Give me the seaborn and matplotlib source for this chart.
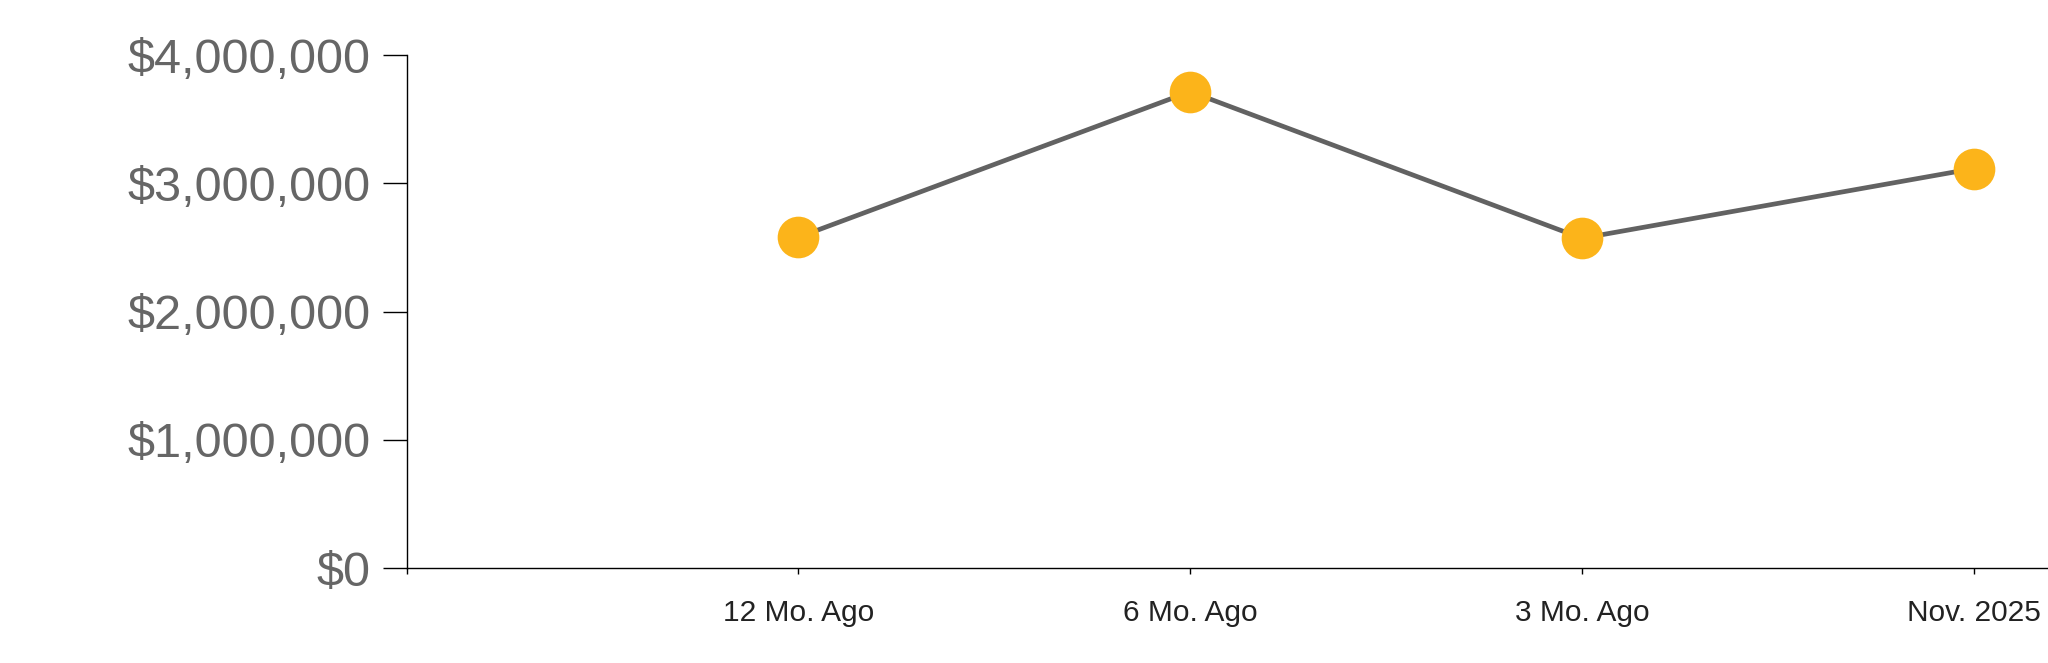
import pandas as pd
import numpy as np
import matplotlib
matplotlib.use("Agg")
import matplotlib.pyplot as plt
import seaborn as sns
from matplotlib.ticker import FuncFormatter

# values
periods = ["12 Mo. Ago", "6 Mo. Ago", "3 Mo. Ago", "Nov. 2025"]
values = [2580000, 3715000, 2572000, 3115000]
y_ticks = [0, 1000000, 2000000, 3000000, 4000000]

df = pd.DataFrame({"period": pd.Categorical(periods, categories=periods), "value": values})

sns.set_style("white")
plt.rcParams["font.family"] = ["Liberation Sans", "DejaVu Sans"]

fig = plt.figure(figsize=(20.48, 6.63), dpi=100)
ax = fig.add_axes([0.1986, 0.1428, 0.8014, 0.7742])

sns.lineplot(data=df, x="period", y="value", ax=ax, color="#626262", linewidth=3.4,
             marker="o", markersize=30, markerfacecolor="#FCB41A",
             markeredgecolor="#FCB41A", markeredgewidth=0, zorder=3)

ax.set_xlim(-1, 3.19)
ax.set_ylim(0, 4000000)

ax.set_xticks([-1, 0, 1, 2, 3])
ax.set_xticklabels([""] + periods)
ax.set_yticks(y_ticks)
ax.yaxis.set_major_formatter(FuncFormatter(lambda v, _: f"${v:,.0f}"))

ax.set_xlabel("")
ax.set_ylabel("")

for s in ["top", "right"]:
    ax.spines[s].set_visible(False)
for s in ["left", "bottom"]:
    ax.spines[s].set_color("black")
    ax.spines[s].set_linewidth(1.0)

ax.tick_params(axis="y", direction="out", length=17, width=1.0, color="black",
               labelsize=35, labelcolor="#666666", pad=9, left=True)
ax.tick_params(axis="x", direction="out", length=4.5, width=1.0, color="black",
               labelsize=21.5, labelcolor="#222222", pad=17.5, bottom=True)

fig.savefig("out.png", dpi=100, facecolor="white")
